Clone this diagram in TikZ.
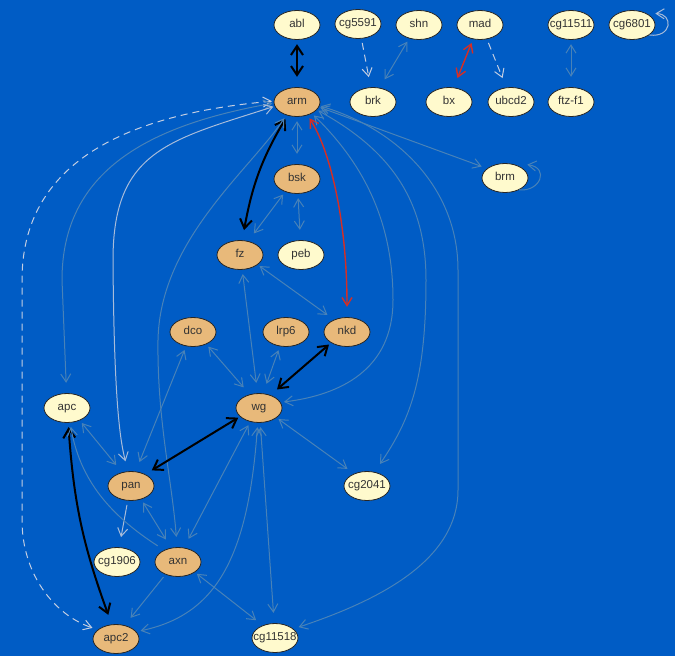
\documentclass[tikz,border=0pt]{standalone}
\usepackage{fontspec}
\setmainfont{Liberation Sans}
\usetikzlibrary{shapes.geometric,arrows.meta}
\definecolor{bg}{RGB}{0,92,197}
\definecolor{steel}{RGB}{72,130,184}
\definecolor{paleC}{RGB}{168,188,218}
\definecolor{dashC}{RGB}{196,206,226}
\definecolor{redE}{RGB}{214,46,36}
\definecolor{nodeY}{RGB}{255,250,205}
\definecolor{nodeO}{RGB}{232,185,122}

% gene node: fixed-size visible ellipse (name-e), label may overflow it,
% plus a slightly larger, raised invisible ellipse (name) for connectors
\newcommand\gnode[5]{%
  \node[#4] (#1-e) at (#2,-#3) {\makebox[0pt]{#5}};
  \node[hit] (#1) at (#2,-#3+3) {};
}

\begin{document}
\begin{tikzpicture}[x=1pt,y=1pt,
  >={Straight Barb[length=8pt,width=10pt]},
  gbase/.style={ellipse, draw=black!85, line width=0.8pt,
    minimum width=46pt, minimum height=29pt, inner sep=0pt,
    text height=8pt, text depth=2.5pt,
    font=\fontsize{11.5}{13}\selectfont, text=black!80},
  ylw/.style={gbase, fill=nodeY},
  org/.style={gbase, fill=nodeO},
  hit/.style={ellipse, minimum width=50pt, minimum height=44pt, inner sep=0pt},
  lnk/.style={draw=steel, line width=1pt},
  pale/.style={draw=paleC, line width=1pt},
  dsh/.style={draw=dashC, line width=1pt, dash pattern=on 7pt off 5pt},
  blk/.style={draw=black, line width=2pt,
    >={Straight Barb[length=9pt,width=12pt]}},
  rd/.style={draw=redE, line width=1.4pt},
]
\fill[bg] (0,0) rectangle (675,-656);
\useasboundingbox (0,0) rectangle (675,-656);

% nodes
\gnode{abl}{297}{25}{ylw}{abl}
\gnode{cg5591}{358}{24}{ylw}{cg5591}
\gnode{shn}{419}{25}{ylw}{shn}
\gnode{mad}{480}{25}{ylw}{mad}
\gnode{cg11511}{571}{25}{ylw}{cg11511}
\gnode{cg6801}{632}{25}{ylw}{cg6801}
\gnode{arm}{297}{102}{org}{arm}
\gnode{brk}{373}{102}{ylw}{brk}
\gnode{bx}{449}{102}{ylw}{bx}
\gnode{ubcd2}{511}{102}{ylw}{ubcd2}
\gnode{ftzf1}{571}{102}{ylw}{ftz-f1}
\gnode{bsk}{297}{179}{org}{bsk}
\gnode{brm}{505}{178}{ylw}{brm}
\gnode{fz}{240}{255}{org}{fz}
\gnode{peb}{301}{255}{ylw}{peb}
\gnode{dco}{193}{332}{org}{dco}
\gnode{lrp6}{286}{332}{org}{lrp6}
\gnode{nkd}{347}{332}{org}{nkd}
\gnode{apc}{67}{408}{ylw}{apc}
\gnode{wg}{259}{408}{org}{wg}
\gnode{pan}{131}{486}{org}{pan}
\gnode{cg2041}{367}{486}{ylw}{cg2041}
\gnode{cg1906}{117}{562}{ylw}{cg1906}
\gnode{axn}{178}{562}{org}{axn}
\gnode{apc2}{116}{639}{org}{apc2}
\gnode{cg11518}{275}{638}{ylw}{cg11518}

% waypoints of the long routed curves
\coordinate (wLa) at (22,-280);
\coordinate (wLb) at (22,-520);
\coordinate (wApc) at (62,-280);
\coordinate (wPan) at (113,-260);
\coordinate (wAxn) at (158,-340);
\coordinate (wWg) at (393,-300);
\coordinate (wCg2) at (426,-280);
\coordinate (wRa) at (458,-270);
\coordinate (wRb) at (458,-490);

% top rows
\draw[blk,<->] (abl) -- (arm);
\draw[dsh,->] (cg5591) -- (brk);
\draw[lnk,<->] (shn) -- (brk);
\draw[rd,<->] (mad) -- (bx);
\draw[dsh,->] (mad) -- (ubcd2);
\draw[lnk,<->] (cg11511) -- (ftzf1);
\draw[pale,->] (cg6801-e.-30) .. controls (672,-38) and (674,-14) .. (cg6801.20);
\draw[lnk,->] (brm-e.-40) .. controls (540,-192) and (550,-168) .. (brm.25);

% edges of arm
\draw[lnk,<->] (arm) -- (bsk);
\draw[lnk,<->] (arm) -- (brm);
\draw[blk,<->] (arm) to[bend right=10] (fz);
\draw[rd,<->] (arm) .. controls (330,-150) and (347,-220) .. (nkd);
\draw[dsh,<->] (arm) .. controls (150,-112) and (22,-150) .. (wLa) -- (wLb)
  .. controls (22,-575) and (55,-615) .. (apc2);
\draw[lnk,<->] (arm) .. controls (150,-125) and (62,-170) .. (wApc) -- (apc);
\draw[pale,<->] (arm) .. controls (170,-140) and (113,-150) .. (wPan)
  .. controls (114,-400) and (120,-440) .. (pan);
\draw[lnk,<->] (arm) .. controls (250,-170) and (160,-240) .. (wAxn)
  .. controls (157,-420) and (172,-480) .. (axn);
\draw[lnk,<->] (arm) .. controls (370,-170) and (393,-230) .. (wWg)
  .. controls (393,-370) and (340,-395) .. (wg);
\draw[lnk,<->] (arm) .. controls (390,-150) and (426,-200) .. (wCg2)
  .. controls (426,-380) and (410,-420) .. (cg2041);
\draw[lnk,<->] (arm) .. controls (400,-130) and (458,-190) .. (wRa) -- (wRb)
  .. controls (458,-560) and (380,-600) .. (cg11518);

% middle and lower part
\draw[lnk,<->] (bsk) -- (fz);
\draw[lnk,<->] (bsk) -- (peb);
\draw[lnk,<->] (fz) -- (nkd);
\draw[lnk,<->] (fz) -- (wg);
\draw[lnk,<->] (dco) -- (wg);
\draw[lnk,<->] (lrp6) -- (wg);
\draw[blk,<->] (nkd) -- (wg);
\draw[blk,<->] (wg) -- (pan);
\draw[lnk,<->] (wg) -- (cg2041);
\draw[lnk,<->] (wg) -- (axn);
\draw[lnk,<->] (wg) -- (cg11518);
\draw[lnk,<->] (wg) .. controls (248,-560) and (215,-615) .. (apc2);
\draw[lnk,<->] (dco) -- (pan);
\draw[lnk,<->] (apc) -- (pan);
\draw[blk,<->] (apc) to[bend right=8] (apc2);
\draw[pale,->] (pan) -- (cg1906);
\draw[lnk,<->] (pan) -- (axn);
\draw[lnk,->] (axn) .. controls (110,-515) and (80,-480) .. (apc);
\draw[lnk,->] (axn) -- (apc2);
\draw[lnk,<->] (axn) -- (cg11518);
\end{tikzpicture}
\end{document}
